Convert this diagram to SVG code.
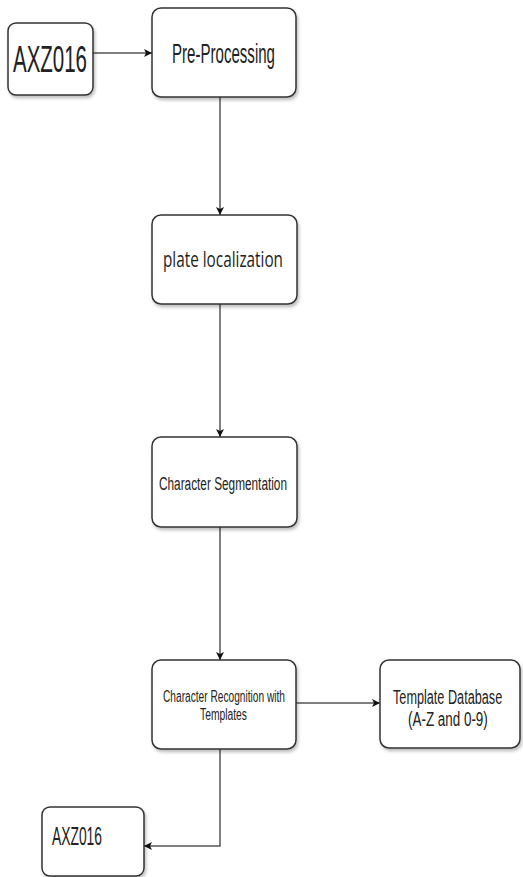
<svg xmlns="http://www.w3.org/2000/svg" width="523" height="877" viewBox="0 0 523 877">
<style>
.box{fill:#ffffff;stroke:#333333;stroke-width:1.5;filter:url(#sh)}
.t{font-family:"Liberation Sans",Arial,sans-serif;fill:#222222}
.c{font-family:"Open Sans","Noto Sans",sans-serif;fill:#222222}
.ln{fill:none;stroke:#555555;stroke-width:1.5}
</style>
<defs>
<filter id="sh" x="-10%" y="-10%" width="125%" height="130%">
<feDropShadow dx="1.5" dy="2.5" stdDeviation="1.5" flood-color="#000000" flood-opacity="0.25"/>
</filter>
<marker id="ah" viewBox="0 0 10 10" refX="10" refY="5" markerWidth="8" markerHeight="8" markerUnits="userSpaceOnUse" orient="auto">
<path d="M0,0 L10,5 L0,10 L2.5,5 Z" fill="#111111"/>
</marker>
</defs>
<g id="connectors">
<path class="ln" d="M93,53 L152,53" marker-end="url(#ah)"/>
<path class="ln" d="M220,97 L220,215" marker-end="url(#ah)"/>
<path class="ln" d="M220,304 L220,437" marker-end="url(#ah)"/>
<path class="ln" d="M220,527 L220,660" marker-end="url(#ah)"/>
<path class="ln" d="M296,703 L380,703" marker-end="url(#ah)"/>
<path class="ln" d="M220,749 L220,846 L144,846" marker-end="url(#ah)"/>
</g>
<g id="input">
<rect class="box" x="8" y="23" width="85" height="72" rx="8"/>
<text class="t" x="13" y="72" font-size="36" textLength="74" lengthAdjust="spacingAndGlyphs">AXZ016</text>
</g>
<g id="preprocessing">
<rect class="box" x="152" y="8" width="144" height="89" rx="9"/>
<text class="t" x="172" y="63" font-size="27" textLength="103" lengthAdjust="spacingAndGlyphs">Pre-Processing</text>
</g>
<g id="plate">
<rect class="box" x="152" y="215" width="145" height="89" rx="9"/>
<text class="c" x="163" y="267" font-size="21" textLength="120" lengthAdjust="spacingAndGlyphs">plate localization</text>
</g>
<g id="segmentation">
<rect class="box" x="152" y="437" width="145" height="90" rx="9"/>
<text class="t" x="159" y="490" font-size="18" textLength="128" lengthAdjust="spacingAndGlyphs">Character Segmentation</text>
</g>
<g id="recognition">
<rect class="box" x="152" y="660" width="144" height="89" rx="9"/>
<text class="t" x="163" y="702" font-size="16" textLength="122" lengthAdjust="spacingAndGlyphs">Character Recognition with</text>
<text class="t" x="200" y="720" font-size="16" textLength="47" lengthAdjust="spacingAndGlyphs">Templates</text>
</g>
<g id="database">
<rect class="box" x="380" y="660" width="140" height="88" rx="9"/>
<text class="t" transform="translate(393,704) scale(0.6,1)" x="0" y="0" font-size="20" textLength="182" lengthAdjust="spacingAndGlyphs">Template Database</text>
<text class="t" transform="translate(408,726) scale(0.6,1)" x="0" y="0" font-size="20" textLength="133" lengthAdjust="spacingAndGlyphs">(A-Z and 0-9)</text>
</g>
<g id="output">
<rect class="box" x="42" y="807" width="102" height="69" rx="8"/>
<text class="t" x="52" y="845" font-size="26" textLength="50" lengthAdjust="spacingAndGlyphs">AXZ016</text>
</g>
</svg>
